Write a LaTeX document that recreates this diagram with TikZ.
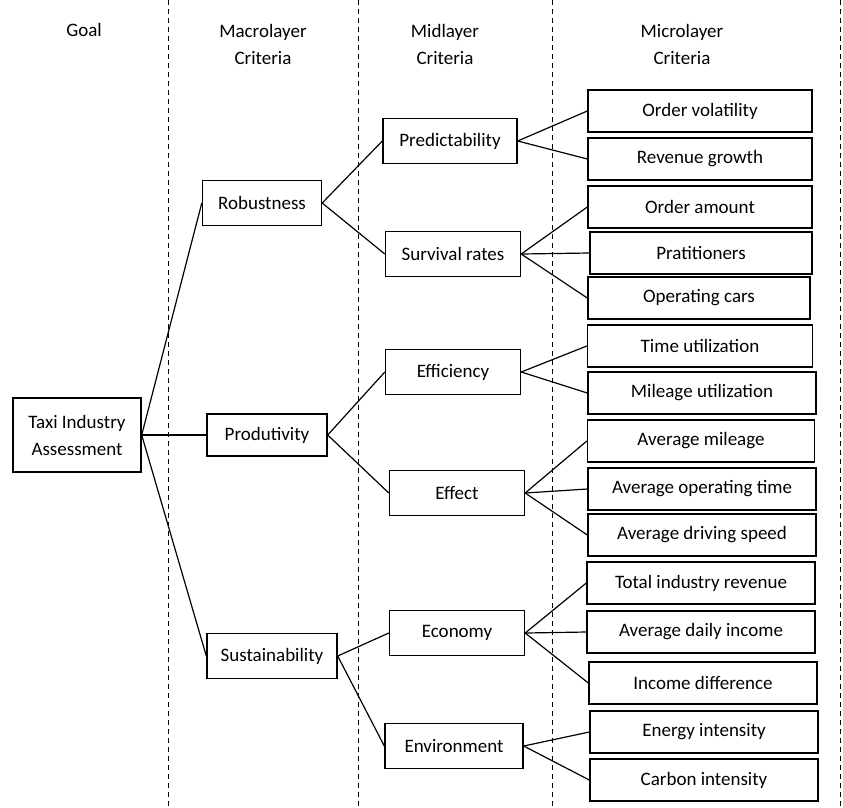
\documentclass[tikz,border=0pt]{standalone}
\usepackage{fontspec}
\setmainfont{Carlito}
\begin{document}
\begin{tikzpicture}[x=1pt,y=-1pt,
  every node/.style={font=\fontsize{19}{23}\selectfont, inner sep=0pt, align=center},
  box/.style={draw, line width=1.4pt, fill=white},
  micro/.style={box, minimum width=225pt, minimum height=42pt},
  mid/.style={box, minimum width=135pt, minimum height=45pt},
  macro/.style={box, minimum height=45pt},
  link/.style={line width=1.2pt},
  sep/.style={line width=1pt, dash pattern=on 5pt off 4pt}]
\useasboundingbox (0,0) rectangle (843,807);
% separators
\foreach \x in {168,358,552,840} \draw[sep] (\x,0) -- (\x,807);
% headers
\node (hg) at (84,30) {Goal};
\node (hma) at (263,44) {Macrolayer\\[4pt]Criteria};
\node (hmi) at (445,44) {Midlayer\\[4pt]Criteria};
\node (hmc) at (682,44) {Microlayer\\[4pt]Criteria};
% goal
\node[box, minimum width=128pt, minimum height=74pt] (goal) at (77,435) {Taxi Industry\\[4pt]Assessment};
% macro
\node[macro, minimum width=119pt] (rob) at (262,203) {Robustness};
\node[macro, minimum width=120pt, minimum height=42pt] (pro) at (267,435) {Produtivity};
\node[macro, minimum width=130pt] (sus) at (272,656) {Sustainability};
% mid
\node[mid, minimum width=134pt] (pred) at (450,141) {Predictability};
\node[mid] (surv) at (453,254) {Survival rates};
\node[mid] (effi) at (453,372) {Efficiency};
\node[mid] (effe) at (457,493) {Effect};
\node[mid] (econ) at (457,633) {Economy};
\node[mid, minimum width=138pt] (envi) at (454,746) {Environment};
% micro
\node[micro, minimum width=224pt] (m1) at (700,111) {Order volatility};
\node[micro, minimum width=224pt] (m2) at (700,159) {Revenue growth};
\node[micro, minimum width=224pt] (m3) at (700,207) {Order amount};
\node[micro, minimum width=222pt] (m4) at (701,253) {Pratitioners};
\node[micro, minimum width=222pt] (m5) at (699,298) {Operating cars};
\node[micro] (m6) at (700,346) {Time utilization};
\node[micro, minimum width=228pt] (m7) at (702,393) {Mileage utilization};
\node[micro, minimum width=227pt] (m8) at (701,441) {Average mileage};
\node[micro, minimum width=228pt] (m9) at (702,489) {Average operating time};
\node[micro, minimum width=228pt] (m10) at (702,535) {Average driving speed};
\node[micro, minimum width=228pt] (m11) at (701,583) {Total industry revenue};
\node[micro, minimum width=228pt] (m12) at (701,632) {Average daily income};
\node[micro, minimum width=228pt] (m13) at (703,683) {Income difference};
\node[micro, minimum width=228pt] (m14) at (704,732) {Energy intensity};
\node[micro, minimum width=228pt] (m15) at (704,780) {Carbon intensity};
% links
\foreach \c in {rob,pro,sus} \draw[link] (goal.east) -- (\c.west);
\foreach \c in {pred,surv} \draw[link] (rob.east) -- (\c.west);
\foreach \c in {effi,effe} \draw[link] (pro.east) -- (\c.west);
\foreach \c in {econ,envi} \draw[link] (sus.east) -- (\c.west);
\foreach \c in {m1,m2} \draw[link] (pred.east) -- (\c.west);
\foreach \c in {m3,m4,m5} \draw[link] (surv.east) -- (\c.west);
\foreach \c in {m6,m7} \draw[link] (effi.east) -- (\c.west);
\foreach \c in {m8,m9,m10} \draw[link] (effe.east) -- (\c.west);
\foreach \c in {m11,m12,m13} \draw[link] (econ.east) -- (\c.west);
\foreach \c in {m14,m15} \draw[link] (envi.east) -- (\c.west);
\end{tikzpicture}
\end{document}
